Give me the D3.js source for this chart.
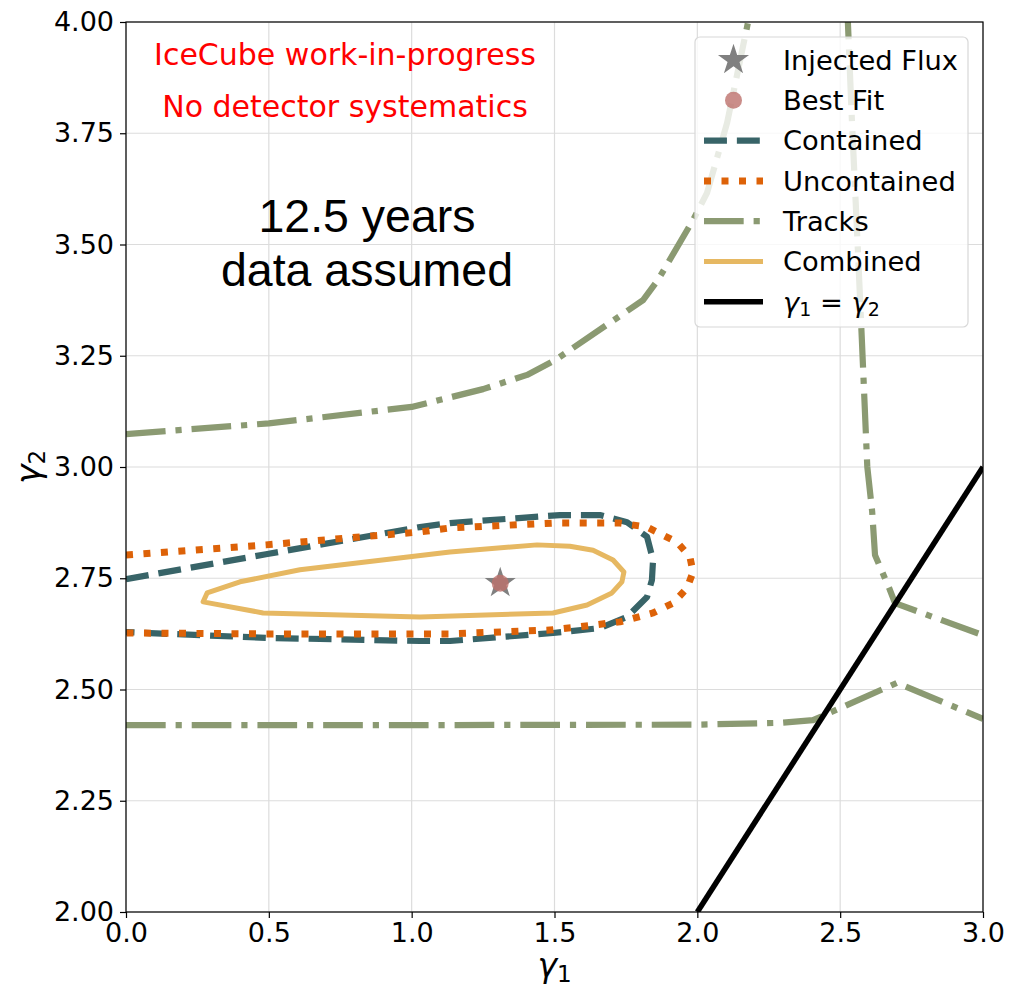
<!DOCTYPE html>
<html>
<head>
<meta charset="utf-8">
<script src="https://cdn.jsdelivr.net/npm/d3@7"></script>
<style>
  html, body { margin: 0; padding: 0; background: #ffffff; }
  svg { display: block; }
</style>
</head>
<body>
<svg id="chart" width="1012" height="992"></svg>
<script>
// Axis ticks
const xTicks = [0.0, 0.5, 1.0, 1.5, 2.0, 2.5, 3.0];
const yTicks = [2.00, 2.25, 2.50, 2.75, 3.00, 3.25, 3.50, 3.75, 4.00];

// Injected flux and best fit point (gamma1, gamma2)
const injected = [1.31, 2.739];
const bestFit = [1.31, 2.739];

// Contained cascades contour
const contained = [
  [0.0, 2.748], [0.49, 2.804], [1.029, 2.865], [1.134, 2.874], [1.519, 2.892],
  [1.659, 2.892], [1.754, 2.876], [1.824, 2.843], [1.845, 2.791], [1.841, 2.746],
  [1.824, 2.708], [1.754, 2.663], [1.659, 2.638], [1.495, 2.627], [1.134, 2.609],
  [1.029, 2.609], [0.49, 2.616], [0.0, 2.629]
];

// Uncontained events contour
const uncontained = [
  [0.0, 2.802], [0.49, 2.825], [1.029, 2.854], [1.134, 2.863], [1.495, 2.874],
  [1.729, 2.874], [1.824, 2.865], [1.929, 2.831], [1.974, 2.798], [1.985, 2.764],
  [1.964, 2.728], [1.915, 2.694], [1.845, 2.672], [1.729, 2.652], [1.495, 2.634],
  [1.134, 2.625], [1.029, 2.625], [0.49, 2.625], [0.0, 2.627]
];

// Tracks contour, three open pieces
const tracksUpper = [
  [0.0, 3.074], [0.5, 3.098], [1.0, 3.135], [1.25, 3.175], [1.404, 3.207],
  [1.502, 3.240], [1.810, 3.375], [1.862, 3.420], [1.985, 3.555], [2.034, 3.616],
  [2.104, 3.773], [2.177, 3.998], [2.19, 4.05]
];
const tracksRight = [
  [2.525, 4.05], [2.527, 4.0], [2.541, 3.780], [2.562, 3.488], [2.576, 3.285],
  [2.595, 3.000], [2.612, 2.900], [2.622, 2.802], [2.674, 2.724], [2.692, 2.694],
  [3.0, 2.622]
];
const tracksLower = [
  [0.0, 2.420], [1.0, 2.420], [2.0, 2.421], [2.289, 2.425], [2.405, 2.431],
  [2.699, 2.515], [3.0, 2.434]
];

// Combined contour (closed)
const combined = [
  [0.270, 2.697], [0.284, 2.717], [0.399, 2.742], [0.609, 2.769], [1.134, 2.809],
  [1.439, 2.825], [1.554, 2.822], [1.635, 2.813], [1.705, 2.791], [1.743, 2.764],
  [1.736, 2.742], [1.701, 2.717], [1.614, 2.690], [1.495, 2.672], [1.029, 2.663],
  [0.480, 2.672], [0.270, 2.697]
];

// Diagonal gamma1 = gamma2
const diagonal = [[2.0, 2.0], [3.0, 3.0]];

const legendLabels = ["Injected Flux", "Best Fit", "Contained", "Uncontained", "Tracks", "Combined", "γ1 = γ2"];

// ---- layout ----
const svg = d3.select("#chart");
const mLeft = 126, mRight = 983, mTop = 22, mBottom = 912;
const x = d3.scaleLinear().domain([0, 3]).range([mLeft, mRight]);
const y = d3.scaleLinear().domain([2, 4]).range([mBottom, mTop]);

const colors = {
  contained: "#386468",
  uncontained: "#dd6208",
  tracks: "#8b9a72",
  combined: "#e6b862",
  diag: "#000000",
  star: "#808080",
  fit: "#bd716b"
};
const LW = 6.2;
const LWdot = 7;

svg.append("defs").append("clipPath").attr("id", "plotclip")
  .append("rect").attr("x", mLeft).attr("y", mTop).attr("width", mRight - mLeft).attr("height", mBottom - mTop);

// grid
const grid = svg.append("g");
grid.selectAll("line.gx").data(xTicks).join("line").attr("class", "gx")
  .attr("x1", d => x(d)).attr("x2", d => x(d)).attr("y1", mTop).attr("y2", mBottom)
  .attr("stroke", "#dcdcdc").attr("stroke-width", 1.2);
grid.selectAll("line.gy").data(yTicks).join("line").attr("class", "gy")
  .attr("y1", d => y(d)).attr("y2", d => y(d)).attr("x1", mLeft).attr("x2", mRight)
  .attr("stroke", "#dcdcdc").attr("stroke-width", 1.2);

const plot = svg.append("g").attr("clip-path", "url(#plotclip)");
const lineGen = d3.line().x(d => x(d[0])).y(d => y(d[1]));

function drawLine(data, color, width, dash, cap) {
  plot.append("path").datum(data)
    .attr("d", lineGen)
    .attr("fill", "none")
    .attr("stroke", color)
    .attr("stroke-width", width)
    .attr("stroke-linejoin", "round")
    .attr("stroke-linecap", cap || "butt")
    .attr("stroke-dasharray", dash || null);
}

const dashed = [3.7 * LW, 1.6 * LW].join(",");
const dotted = [LWdot, 10.5].join(",");
const dashdot = [6.4 * LW, 1.6 * LW, 1 * LW, 1.6 * LW].join(",");

drawLine(contained, colors.contained, LW, dashed);
drawLine(uncontained, colors.uncontained, LWdot, dotted);
drawLine(tracksUpper, colors.tracks, LW, dashdot);
drawLine(tracksRight, colors.tracks, LW, dashdot);
drawLine(tracksLower, colors.tracks, LW, dashdot);
drawLine(combined, colors.combined, 5, null, "round");
drawLine(diagonal, colors.diag, 5.5, null);

// injected flux star and best fit point
const starSize = 300;
plot.append("path")
  .attr("d", d3.symbol().type(d3.symbolStar).size(starSize)())
  .attr("transform", `translate(${x(injected[0])},${y(injected[1])})`)
  .attr("fill", colors.star);
plot.append("circle")
  .attr("cx", x(bestFit[0])).attr("cy", y(bestFit[1])).attr("r", 8.5)
  .attr("fill", colors.fit).attr("opacity", 0.8);

// axes frame
svg.append("rect").attr("x", mLeft).attr("y", mTop).attr("width", mRight - mLeft).attr("height", mBottom - mTop)
  .attr("fill", "none").attr("stroke", "#000").attr("stroke-width", 1.2);

const tickFont = "'DejaVu Sans', sans-serif";
const xAxis = svg.append("g").attr("transform", `translate(0,${mBottom})`)
  .call(d3.axisBottom(x).tickValues(xTicks).tickFormat(d3.format(".1f")).tickSize(6).tickPadding(5));
const yAxis = svg.append("g").attr("transform", `translate(${mLeft},0)`)
  .call(d3.axisLeft(y).tickValues(yTicks).tickFormat(d3.format(".2f")).tickSize(6).tickPadding(6));
[xAxis, yAxis].forEach(a => {
  a.select(".domain").remove();
  a.selectAll(".tick line").attr("stroke", "#000").attr("stroke-width", 1.2);
  a.selectAll(".tick text").attr("font-family", tickFont).attr("font-size", 27).attr("fill", "#000");
});
xAxis.selectAll(".tick text").attr("dy", "0.71em");

// axis labels
const xl = svg.append("text").attr("x", x(1.5)).attr("y", 977)
  .attr("text-anchor", "middle").attr("font-family", tickFont).attr("font-size", 33);
xl.append("tspan").attr("font-style", "italic").text("γ");
xl.append("tspan").attr("font-size", 23).attr("dy", 5).text("1");

const yl = svg.append("text")
  .attr("transform", `translate(40,${y(3)}) rotate(-90)`)
  .attr("text-anchor", "middle").attr("font-family", tickFont).attr("font-size", 33);
yl.append("tspan").attr("font-style", "italic").text("γ");
yl.append("tspan").attr("font-size", 23).attr("dy", 5).text("2");

// annotations
svg.append("text").attr("x", 345).attr("y", 65).attr("text-anchor", "middle")
  .attr("font-family", tickFont).attr("font-size", 30).attr("fill", "#ff0000")
  .text("IceCube work-in-progress");
svg.append("text").attr("x", 345).attr("y", 117).attr("text-anchor", "middle")
  .attr("font-family", tickFont).attr("font-size", 30).attr("fill", "#ff0000")
  .text("No detector systematics");
svg.append("text").attr("x", 367).attr("y", 232).attr("text-anchor", "middle")
  .attr("font-family", "'Liberation Sans', Arial, sans-serif").attr("font-size", 46.5).attr("fill", "#000")
  .text("12.5 years");
svg.append("text").attr("x", 367).attr("y", 286).attr("text-anchor", "middle")
  .attr("font-family", "'Liberation Sans', Arial, sans-serif").attr("font-size", 46.5).attr("fill", "#000")
  .text("data assumed");

// legend
const lg = svg.append("g");
lg.append("rect").attr("x", 695).attr("y", 37).attr("width", 273).attr("height", 290)
  .attr("rx", 5).attr("fill", "#ffffff").attr("fill-opacity", 0.8)
  .attr("stroke", "#d8d8d8").attr("stroke-width", 1.2);
const rowY = i => 60 + i * 40.3;
const hx0 = 704, hx1 = 763, hxm = (hx0 + hx1) / 2, tx = 783;

lg.append("path").attr("d", d3.symbol().type(d3.symbolStar).size(starSize)())
  .attr("transform", `translate(${hxm},${rowY(0)})`).attr("fill", colors.star);
lg.append("circle").attr("cx", hxm).attr("cy", rowY(1)).attr("r", 8.5)
  .attr("fill", colors.fit).attr("opacity", 0.8);
const legLines = [
  [2, colors.contained, LW, dashed],
  [3, colors.uncontained, LWdot, dotted],
  [4, colors.tracks, LW, dashdot],
  [5, colors.combined, 5, null],
  [6, colors.diag, 5.5, null]
];
legLines.forEach(([i, c, w, d]) => {
  lg.append("line").attr("x1", hx0).attr("x2", hx1).attr("y1", rowY(i)).attr("y2", rowY(i))
    .attr("stroke", c).attr("stroke-width", w).attr("stroke-dasharray", d);
});
legendLabels.forEach((t, i) => {
  const te = lg.append("text").attr("x", tx).attr("y", rowY(i)).attr("dy", "0.36em")
    .attr("font-family", tickFont).attr("font-size", 27.3).attr("fill", "#000");
  if (i === 6) {
    te.append("tspan").attr("font-style", "italic").text("γ");
    te.append("tspan").attr("font-size", 19).attr("dy", 4).text("1");
    te.append("tspan").attr("dy", -4).text(" = ");
    te.append("tspan").attr("font-style", "italic").text("γ");
    te.append("tspan").attr("font-size", 19).attr("dy", 4).text("2");
  } else {
    te.text(t);
  }
});
</script>
</body>
</html>
